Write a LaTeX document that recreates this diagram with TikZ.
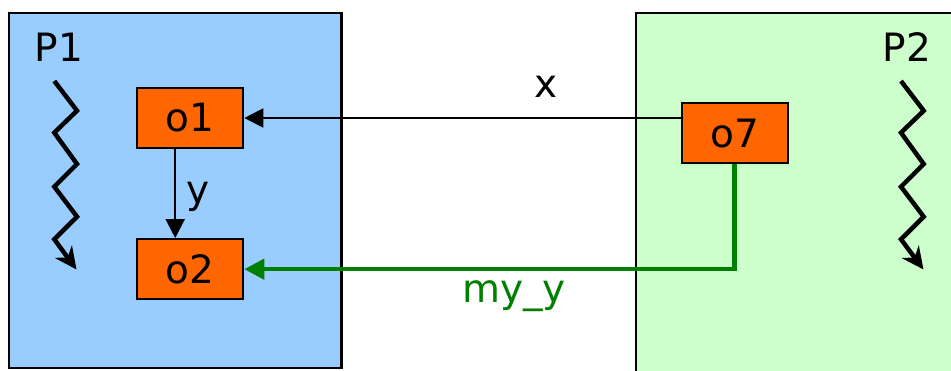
\documentclass[tikz,border=0pt]{standalone}
\usepackage{fontspec}
\setmainfont{DejaVu Sans}
\usetikzlibrary{arrows.meta}
\definecolor{procblue}{HTML}{99CCFF}
\definecolor{procgreen}{HTML}{CCFFCC}
\definecolor{objorange}{HTML}{FF6600}
\definecolor{refgreen}{HTML}{008000}
\tikzset{
  lbl/.style={font=\fontsize{39}{46}\selectfont, inner sep=0pt, anchor=base},
  obj/.style={draw=black, line width=2.2pt, fill=objorange, minimum width=106pt,
              minimum height=60pt, inner sep=0pt, font=\fontsize{39}{46}\selectfont},
  thread/.style={line width=4.5pt, line join=miter,
                 -{Stealth[length=22pt,width=21pt,inset=7pt]}},
  ref/.style={line width=2pt, -{Triangle[length=19pt,width=19pt]}},
}
\begin{document}
\begin{tikzpicture}[x=1pt,y=-1pt]
  \useasboundingbox (0,0) rectangle (951,371);
  % process areas
  \fill[procblue] (9,13) rectangle (341.5,368);
  \draw[line width=2.2pt] (9,13) rectangle (341.5,368);
  \fill[procgreen] (636,13) rectangle (955,375);
  \draw[line width=2.2pt] (636,375) -- (636,13) -- (955,13);
  % process names
  \node[lbl] (p1) at (59,62) {P1};
  \node[lbl] (p2) at (907,62) {P2};
  % threads
  \draw[thread] (54.3,81) -- (77,110.7) -- (54.3,132.7) -- (77,164) -- (54.3,186.7)
     -- (77,216.7) -- (54.3,239.3) -- (76.5,269.5);
  \draw[thread] (901,81) -- (923.7,110.7) -- (901,132.7) -- (923.7,164) -- (901,186.7)
     -- (923.7,216.7) -- (901,239.3) -- (923.5,269.5);
  % objects
  \node[obj] (o1) at (190.2,118) {o1};
  \node[obj] (o2) at (190.2,269.2) {o2};
  \node[obj] (o7) at (734.7,133.3) {o7};
  % references
  \draw[ref] ([xshift=-15pt]o1.south) -- ([xshift=-15pt]o2.north);
  \node[lbl] (ly) at (198.5,204) {y};
  \draw[ref] (o7.west |- o1.east) -- (o1.east);
  \node[lbl] (lx) at (546.5,98) {x};
  \draw[ref, draw=refgreen, line width=4.5pt,
        -{Triangle[length=20pt,width=20pt]}] (o7.south) |- (o2.east);
  \node[lbl, text=refgreen] (lmy) at (514,303) {my\_y};
\end{tikzpicture}
\end{document}
